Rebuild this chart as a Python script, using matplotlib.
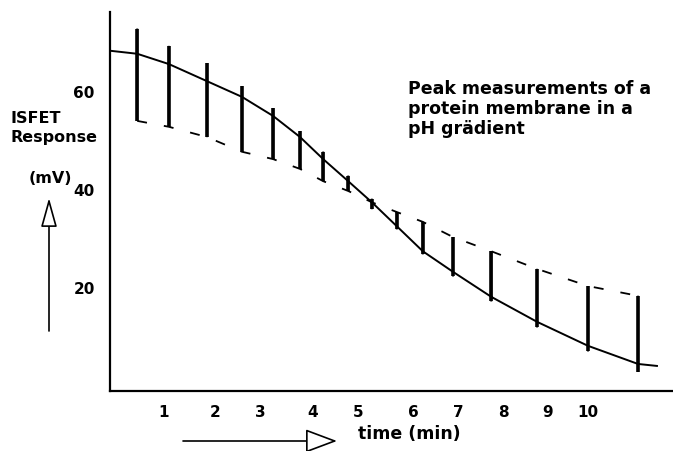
import matplotlib.pyplot as plt
from matplotlib.patches import ArrowStyle

# spike times (min) and readings (mV)
spike_t = [0.45, 1.12, 1.93, 2.67, 3.33, 3.90, 4.39, 4.92,
           5.42, 5.95, 6.50, 7.14, 7.95, 8.92, 10.0, 11.06]
spike_top = [72.7, 69.2, 65.7, 61.0, 56.5, 51.8, 47.6, 42.7,
             38.0, 35.3, 33.3, 30.2, 27.3, 23.7, 20.2, 18.2]
spike_bottom = [53.9, 52.7, 50.6, 47.6, 46.1, 44.1, 41.6, 39.6,
                35.9, 31.8, 26.7, 22.2, 17.1, 11.8, 6.9, 2.7]
trace_level = [67.6, 65.5, 62.0, 58.8, 54.9, 50.6, 46.1, 41.6,
               37.3, 32.4, 27.3, 23.1, 18.0, 12.9, 8.0, 4.3]
peak_level = [53.9, 52.7, 50.6, 47.6, 46.1, 44.1, 41.6, 39.6,
              37.3, 35.3, 33.3, 30.2, 27.3, 23.7, 20.2, 18.2]

start_t, start_level = -0.11, 68.2
end_t, end_level = 11.46, 3.9

tick_pos = [1.0, 2.1, 3.05, 4.17, 5.13, 6.29, 7.25, 8.2, 9.15, 10.0]
tick_labels = ["1", "2", "3", "4", "5", "6", "7", "8", "9", "10"]
y_ticks = [20, 40, 60]

# build the continuous trace: baseline -> spike up -> spike down -> back
trace_x = [start_t]
trace_y = [start_level]
for t, top, bot, lev in zip(spike_t, spike_top, spike_bottom, trace_level):
    trace_x += [t, t, t, t]
    trace_y += [lev, top, bot, lev]
trace_x.append(end_t)
trace_y.append(end_level)

fig = plt.figure(figsize=(6.73, 4.52), dpi=100)
ax = fig.add_axes([0.1634, 0.1327, 0.8366, 0.8383])

ax.plot(trace_x, trace_y, color="black", lw=1.4, solid_joinstyle="miter")
ax.vlines(spike_t, spike_bottom, spike_top, color="black", lw=2.6)
ax.plot(spike_t, peak_level, color="black", lw=1.3,
        linestyle=(0, (5.5, 9.5)))

ax.set_xlim(-0.127, 11.8)
ax.set_ylim(-1.22, 76.1)

for side in ["top", "right"]:
    ax.spines[side].set_visible(False)
for side in ["left", "bottom"]:
    ax.spines[side].set_linewidth(1.6)

tick_font = dict(family="DejaVu Sans", weight="bold", size=11)
label_font = dict(family="DejaVu Sans", weight="bold", size=11.5)
note_font = dict(family="DejaVu Sans", weight="bold", size=12.5)

ax.set_xticks(tick_pos)
ax.set_xticklabels(tick_labels, fontdict=tick_font)
ax.set_yticks(y_ticks)
ax.set_yticklabels([str(v) for v in y_ticks], fontdict=tick_font)
ax.tick_params(axis="x", length=0, pad=9)
ax.tick_params(axis="y", length=0, pad=11)

fig.text(408, 452 - 80, "Peak measurements of a\nprotein membrane in a\npH grädient",
         transform=None, ha="left", va="top", linespacing=1.15,
         **note_font)

fig.text(10, 452 - 128, "ISFET\nResponse", transform=None,
         ha="left", va="center", linespacing=1.3, **label_font)
fig.text(72, 452 - 179, "(mV)", transform=None, ha="right",
         va="center", **label_font)
fig.text(358, 452 - 434, "time (min)", transform=None, ha="left",
         va="center", **note_font)

ax.annotate("", xy=(49, 452 - 199), xytext=(49, 452 - 332),
            xycoords="figure pixels", textcoords="figure pixels",
            arrowprops=dict(arrowstyle=ArrowStyle("-|>", head_length=1.8,
                                                  head_width=0.5),
                            mutation_scale=10, fc="white", ec="black",
                            lw=1.2, shrinkA=0, shrinkB=0))
ax.annotate("", xy=(337, 452 - 442), xytext=(183, 452 - 442),
            xycoords="figure pixels", textcoords="figure pixels",
            arrowprops=dict(arrowstyle=ArrowStyle("-|>", head_length=2.0,
                                                  head_width=0.75),
                            mutation_scale=10, fc="white", ec="black",
                            lw=1.2, shrinkA=0, shrinkB=0))

fig.savefig("out.png", dpi=100)
